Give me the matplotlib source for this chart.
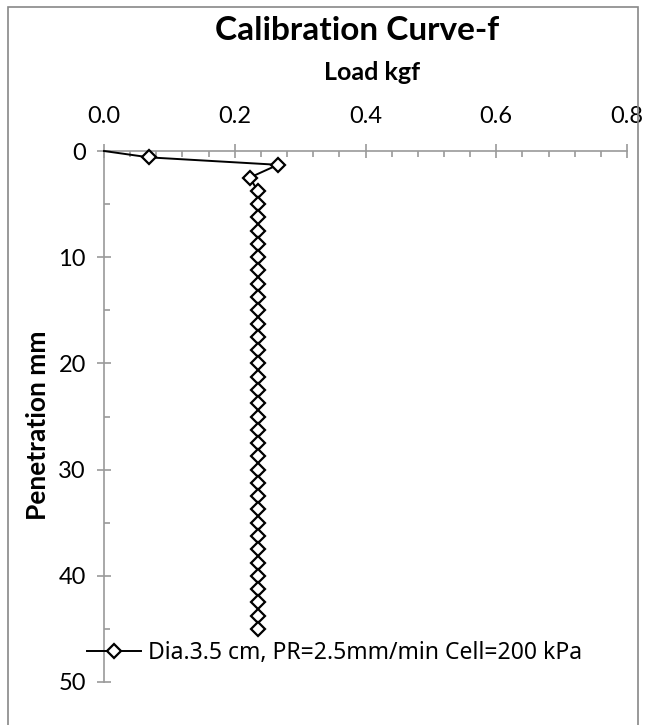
import numpy as np
import matplotlib
matplotlib.use("Agg")
from matplotlib import pyplot as plt
from matplotlib.patches import Rectangle

# data
load_kgf = [0.0, 0.069, 0.266, 0.223,
            0.235, 0.235, 0.235, 0.235, 0.235, 0.235, 0.235, 0.235, 0.235,
            0.235, 0.235, 0.235, 0.235, 0.235, 0.235, 0.235, 0.235, 0.235,
            0.235, 0.235, 0.235, 0.235, 0.235, 0.235, 0.235, 0.235, 0.235,
            0.235, 0.235, 0.235, 0.235, 0.235, 0.235, 0.235]
penetration_mm = [0.0, 0.6, 1.3, 2.5,
                  3.75, 5.0, 6.25, 7.5, 8.75, 10.0, 11.25, 12.5, 13.75,
                  15.0, 16.25, 17.5, 18.75, 20.0, 21.25, 22.5, 23.75, 25.0,
                  26.25, 27.5, 28.75, 30.0, 31.25, 32.5, 33.75, 35.0, 36.25,
                  37.5, 38.75, 40.0, 41.25, 42.5, 43.75, 45.0]
series_label = 'Dia.3.5 cm, PR=2.5mm/min Cell=200 kPa'
x_ticks = [0.0, 0.2, 0.4, 0.6, 0.8]
x_labels = ['0.0', '0.2', '0.4', '0.6', '0.8']
y_ticks = [0, 10, 20, 30, 40, 50]

lab_font = 'Lato'
grey = '#9a9a9a'

fig = plt.figure(figsize=(6.45, 7.25), dpi=100)
ax = fig.add_axes([104/645, 43/725, 523/645, 531/725])

ax.plot(load_kgf, penetration_mm, color='black', lw=1.4, marker='D',
        markersize=7, markerfacecolor='white', markeredgecolor='black',
        markeredgewidth=1.6, markevery=list(range(1, len(load_kgf))),
        label=series_label, clip_on=False, zorder=3)

ax.set_xlim(0, 0.8)
ax.set_ylim(50, 0)
for s in ['right', 'bottom']:
    ax.spines[s].set_visible(False)
for s in ['left', 'top']:
    ax.spines[s].set_color(grey)
    ax.spines[s].set_linewidth(1.2)

ax.xaxis.tick_top()
ax.set_xticks(x_ticks)
ax.set_xticks(np.arange(0, 0.81, 0.04), minor=True)
ax.set_xticklabels(x_labels, fontname=lab_font, fontsize=17)
ax.set_yticks(y_ticks)
ax.set_yticks(np.arange(0, 51, 5), minor=True)
ax.set_yticklabels([str(t) for t in y_ticks], fontname=lab_font, fontsize=17)
ax.tick_params(which='major', direction='inout', length=10, width=1.2,
               color=grey)
ax.tick_params(which='minor', direction='in', length=4.5, width=1.2,
               color=grey)
ax.tick_params(axis='y', which='major', pad=8)
ax.tick_params(axis='x', which='major', pad=12)

fig.text(357/645, 1 - 31/725, 'Calibration Curve-f', ha='center',
         va='center', fontname=lab_font, fontweight='bold', fontsize=24)
fig.text(372/645, 1 - 72/725, 'Load kgf', ha='center', va='center',
         fontname=lab_font, fontweight='bold', fontsize=18)
fig.text(38/645, 1 - 425/725, 'Penetration mm', ha='center', va='center',
         rotation=90, fontname=lab_font, fontweight='bold', fontsize=19)

leg = fig.legend(loc='center left', bbox_to_anchor=(87/645, 1 - 653/725),
                 frameon=False, borderpad=0, borderaxespad=0,
                 handlelength=2.36, handletextpad=0.3,
                 prop={'family': 'Noto Sans', 'size': 16.5})

fig.patches.append(Rectangle((8/645, -0.01), 630/645, 1.01 - 7/725,
                             transform=fig.transFigure, fill=False,
                             edgecolor='#888888', lw=1.2))

fig.savefig('out.png', dpi=100)
